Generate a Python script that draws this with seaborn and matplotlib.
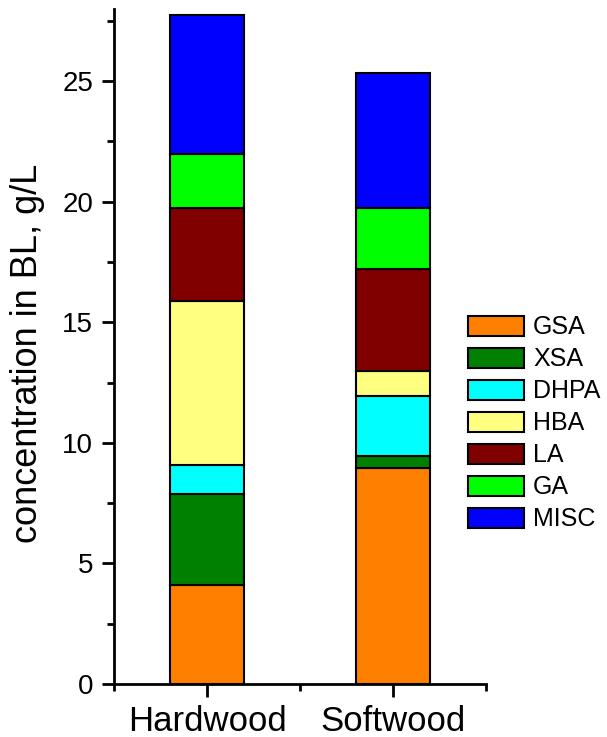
import matplotlib
matplotlib.use("Agg")
import matplotlib.pyplot as plt
import pandas as pd
import seaborn as sns
from matplotlib.ticker import MultipleLocator, FixedLocator

# data (g/L)
woods = ["Hardwood", "Softwood"]
components = ["GSA", "XSA", "DHPA", "HBA", "LA", "GA", "MISC"]
hardwood = [4.09, 3.77, 1.21, 6.82, 3.83, 2.28, 5.75]
softwood = [8.97, 0.47, 2.51, 1.03, 4.21, 2.56, 5.58]
colors = ["#FF8000", "#008000", "#00FFFF", "#FFFF80", "#800000", "#00FF00", "#0000FF"]

df = pd.DataFrame({"wood": woods * len(components),
                   "component": [c for c in components for _ in woods],
                   "conc": [v for pair in zip(hardwood, softwood) for v in pair]})

sns.set_style("ticks", {"axes.edgecolor": "black", "xtick.color": "black",
                        "ytick.color": "black", "text.color": "black",
                        "axes.labelcolor": "black"})
plt.rcParams["font.family"] = ["Liberation Sans", "DejaVu Sans"]

fig = plt.figure(figsize=(6.07, 7.37), dpi=100)
ax = fig.add_axes([0.188, 0.072, 0.613, 0.916])

bottom = [0.0, 0.0]
for comp, col in zip(components, colors):
    sub = df[df["component"] == comp]
    sns.barplot(data=sub, x="wood", y="conc", order=woods, color=col, width=0.4,
                bottom=bottom, edgecolor="black", linewidth=1.5, label=comp,
                saturation=1, ax=ax, errorbar=None)
    bottom = [b + v for b, v in zip(bottom, sub["conc"].tolist())]

ax.set_xlim(-0.5, 1.5)
ax.set_ylim(0, 28)
ax.yaxis.set_major_locator(MultipleLocator(5))
ax.yaxis.set_minor_locator(MultipleLocator(2.5))
ax.xaxis.set_minor_locator(FixedLocator([-0.5, 0.5, 1.5]))
ax.set_xlabel("")
ax.set_ylabel("concentration in BL, g/L", fontsize=26)
ax.yaxis.set_label_coords(-0.185, 0.49)

for s in ["top", "right"]:
    ax.spines[s].set_visible(False)
for s in ["left", "bottom"]:
    ax.spines[s].set_linewidth(2)
ax.tick_params(axis="y", which="major", length=9, width=2, labelsize=20, pad=6)
ax.tick_params(axis="y", which="minor", length=5, width=2)
ax.tick_params(axis="x", which="major", length=9, width=2, labelsize=25, pad=6)
ax.tick_params(axis="x", which="minor", length=5, width=2)

ax.legend(loc="upper left", bbox_to_anchor=(0.771, 0.572), bbox_transform=fig.transFigure,
          frameon=False, fontsize=18, handlelength=2.24, handleheight=0.84,
          labelspacing=0.32, handletextpad=0.36, borderaxespad=0, borderpad=0)

fig.savefig("out.png", dpi=100)
